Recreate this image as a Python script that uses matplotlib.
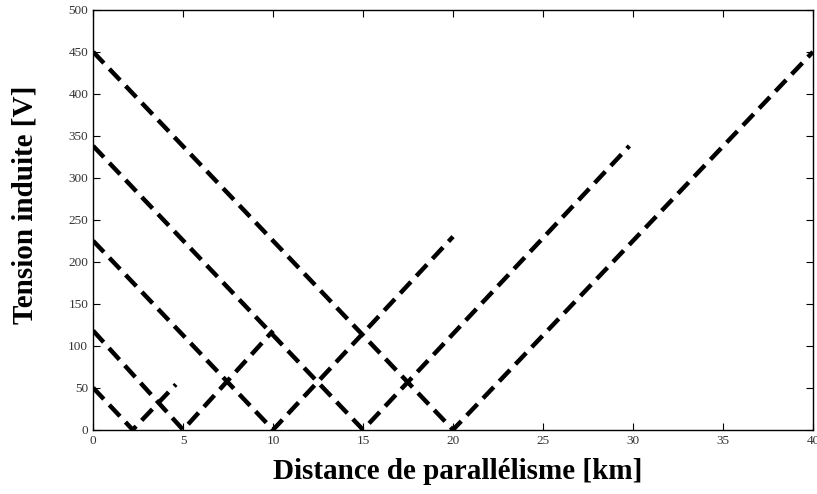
import numpy as np
import matplotlib
matplotlib.use('Agg')
from matplotlib import pyplot as plt

# Induced voltage along each parallel run: start, zero point, end
x_5km = [0, 2.2, 4.6]
v_5km = [50, 0, 54]
x_10km = [0, 5, 10]
v_10km = [118, 0, 118]
x_20km = [0, 10, 20]
v_20km = [225, 0, 230]
x_30km = [0, 15, 29.8]
v_30km = [338, 0, 338]
x_40km = [0, 20, 40]
v_40km = [450, 0, 450]

x_ticks = [0, 5, 10, 15, 20, 25, 30, 35, 40]
y_ticks = [0, 50, 100, 150, 200, 250, 300, 350, 400, 450, 500]

plt.rcParams['font.family'] = 'Liberation Serif'

fig = plt.figure(figsize=(8.17, 4.94), dpi=100)
ax = fig.add_axes([0.114, 0.130, 0.881, 0.850])

for xs, vs in [(x_5km, v_5km), (x_10km, v_10km), (x_20km, v_20km),
               (x_30km, v_30km), (x_40km, v_40km)]:
    ax.plot(xs, vs, color='black', linewidth=3.2, linestyle=(0, (3.5, 1.8)),
            solid_joinstyle='miter')

ax.set_xlim(0, 40)
ax.set_ylim(0, 500)
ax.set_xticks(x_ticks)
ax.set_yticks(y_ticks)
ax.tick_params(direction='in', top=True, right=True, labelsize=9.5,
               length=5, width=0.8, labelcolor='#333333')
for s in ax.spines.values():
    s.set_linewidth(1.0)

ax.set_xlabel('Distance de parallélisme [km]', fontsize=21, fontweight='bold')
ax.set_ylabel('Tension induite [V]', fontsize=21, fontweight='bold')
ax.xaxis.set_label_coords(0.506, -0.067)
ax.yaxis.set_label_coords(-0.076, 0.536)

plt.savefig('out.png', dpi=100)
